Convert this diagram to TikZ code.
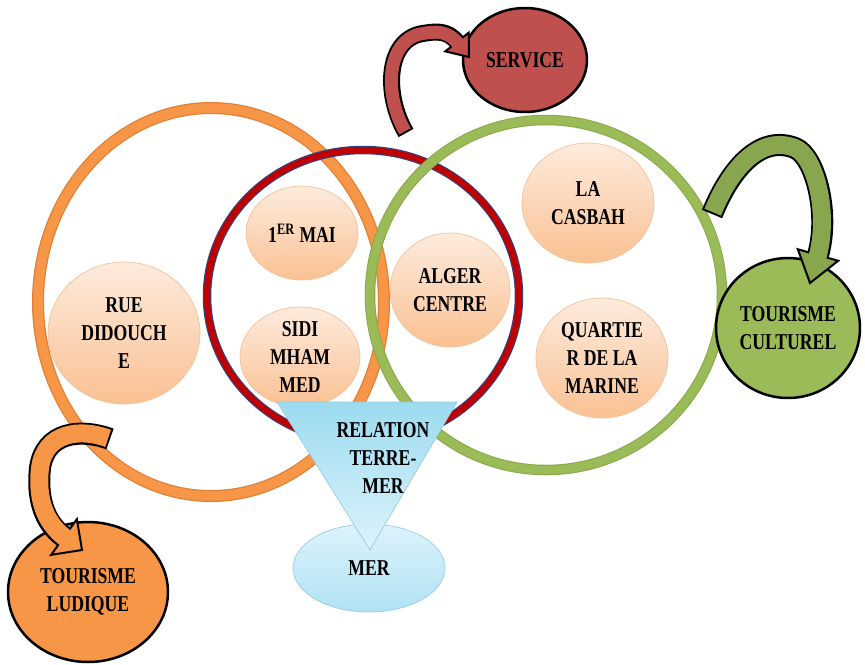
\documentclass[tikz,border=0pt]{standalone}
\usepackage{fontspec}
\setmainfont{Liberation Serif}[FakeStretch=0.78]
\usetikzlibrary{shapes.geometric,calc}

\definecolor{svcred}{HTML}{C0504D}
\definecolor{culgreen}{HTML}{9BBB59}
\definecolor{culdark}{HTML}{88A64D}
\definecolor{ludorange}{HTML}{F79646}
\definecolor{peachtop}{HTML}{FDEBDD}
\definecolor{peachbot}{HTML}{FAC193}
\definecolor{peachline}{HTML}{F2C29A}
\definecolor{ringorange}{HTML}{F79646}
\definecolor{ringorangeline}{HTML}{E07F35}
\definecolor{ringred}{HTML}{C00000}
\definecolor{ringredline}{HTML}{34407E}
\definecolor{ringgreenline}{HTML}{88A848}
\definecolor{seatop}{HTML}{9CDBF0}
\definecolor{seabot}{HTML}{DDF3FB}
\definecolor{sealine}{HTML}{95CDE0}

\tikzset{
  lbl/.style={font=\bfseries\fontsize{12.9}{16}\selectfont, align=center},
  peach/.style={lbl, ellipse, draw=peachline, top color=peachtop, bottom color=peachbot, inner sep=-2pt},
  bigoval/.style={lbl, ellipse, draw=black, line width=0.05cm, inner sep=-2pt},
}

\newcommand{\bentarrow}[6]{%
  \filldraw[fill=#1, line width=0.04cm, line join=miter] ($(#4)!#6!90:(#5)$) -- (#5) -- ($(#4)!#6!-90:(#5)$) -- cycle;
  \draw[line width=#2] #3;
  \draw[#1, line width=#2-0.08cm, shorten <=0.04cm, shorten >=-0.06cm] #3;
}

\begin{document}
\begin{tikzpicture}[x=0.02cm, y=-0.02cm]
    \useasboundingbox (0,0) rectangle (865,664);

    \draw[ringorangeline, line width=0.24cm] (211,302) ellipse [x radius=173, y radius=194];
    \draw[ringorange, line width=0.19cm] (211,302) ellipse [x radius=173, y radius=194];
    \draw[ringredline, line width=0.17cm] (363,296) ellipse [x radius=156, y radius=146];
    \draw[ringred, line width=0.12cm] (363,296) ellipse [x radius=156, y radius=146];
    \draw[ringgreenline, line width=0.21cm] (546,295) ellipse [x radius=176, y radius=175];
    \draw[culgreen, line width=0.17cm] (546,295) ellipse [x radius=176, y radius=175];

    \node[peach, minimum width=3.04cm, minimum height=2.84cm] (rue) at (124,333) {RUE\\DIDOUCH\\E};
    \node[peach, minimum width=2.24cm, minimum height=1.88cm] (mai) at (302,233) {1\textsuperscript{ER} MAI};
    \node[peach, minimum width=2.4cm, minimum height=2cm] (sidi) at (300,357) {SIDI\\MHAM\\MED};
    \node[peach, minimum width=2.4cm, minimum height=2.28cm] (alger) at (450,290) {ALGER\\CENTRE};
    \node[peach, minimum width=2.64cm, minimum height=2.4cm] (casbah) at (588,203) {LA\\CASBAH};
    \node[peach, minimum width=2.64cm, minimum height=2.4cm] (marine) at (602,358) {QUARTIE\\R DE LA\\MARINE};

    \node[lbl, ellipse, draw=sealine, top color=seabot, bottom color=seatop!80, minimum width=3.04cm, minimum height=1.76cm, inner sep=-2pt] (mer) at (369,568) {MER};
    \draw[sealine, top color=seatop, bottom color=seabot] (277,402) -- (457,402) -- (370,550) -- cycle;
    \node[lbl] (rel) at (383,458) {RELATION\\TERRE-\\MER};

    \node[bigoval, fill=svcred, minimum width=2.48cm, minimum height=2.08cm] (service) at (525,60) {SERVICE};
    \node[bigoval, fill=culgreen, minimum width=2.88cm, minimum height=2.8cm] (culturel) at (788,328) {TOURISME\\CULTUREL};
    \node[bigoval, fill=ludorange, minimum width=3.2cm, minimum height=2.8cm] (ludique) at (88,592) {TOURISME\\LUDIQUE};

    \coordinate (svtail) at (406,133);
    \coordinate (svbase) at (457,42);
    \coordinate (svtip) at (469,57);
    \bentarrow{svcred}{0.34cm}{(svtail) .. controls (384,95) and (386,42) .. (420,34) .. controls (436,31) and ($(svbase)!-0.8!(svtip)$) .. (svbase)}{svbase}{svtip}{0.3cm}

    \coordinate (cltail) at (712,214);
    \coordinate (clbase) at (818,255);
    \coordinate (cltip) at (810,283);
    \bentarrow{culdark}{0.44cm}{(cltail) .. controls (732,165) and (762,135) .. (795,148) .. controls (815,156) and ($(clbase)!-1.5!(cltip)$) .. (clbase)}{clbase}{cltip}{0.42cm}

    \coordinate (ldtail) at (110,439);
    \coordinate (ldbase) at (64,537);
    \coordinate (ldtip) at (82,550);
    \bentarrow{ludorange}{0.44cm}{(ldtail) .. controls (80,428) and (45,432) .. (40,468) .. controls (37,495) and ($(ldbase)!-1.2!(ldtip)$) .. (ldbase)}{ldbase}{ldtip}{0.44cm}
\end{tikzpicture}
\end{document}
